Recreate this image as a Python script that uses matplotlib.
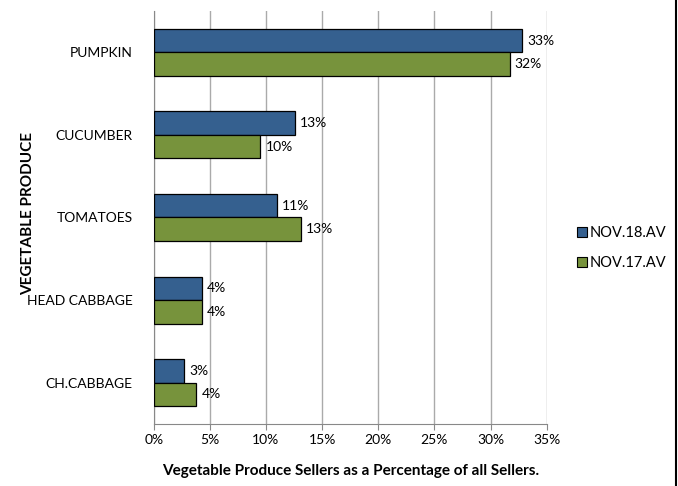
import matplotlib
matplotlib.use('Agg')
import matplotlib.pyplot as plt
import matplotlib.patches as mpatches
from matplotlib.lines import Line2D
import numpy as np

plt.rcParams['font.family'] = ['Lato', 'Open Sans', 'DejaVu Sans']

CATEGORIES = ['PUMPKIN', 'CUCUMBER', 'TOMATOES', 'HEAD CABBAGE', 'CH.CABBAGE']
NOV18 = [32.8, 12.6, 11.0, 4.3, 2.7]
NOV17 = [31.7, 9.5, 13.1, 4.3, 3.8]
LBL18 = ['33%', '13%', '11%', '4%', '3%']
LBL17 = ['32%', '10%', '13%', '4%', '4%']
XTICKS = [0, 5, 10, 15, 20, 25, 30, 35]

COL_18 = '#35608F'
COL_17 = '#77933C'

fig = plt.figure(figsize=(6.78, 4.86), dpi=100)
ax = fig.add_axes([0.2267, 0.1276, 0.5796, 0.8498])

n = len(CATEGORIES)
y = np.arange(n)
h = 0.285
ax.barh(y - h / 2, NOV18, height=h, color=COL_18, edgecolor='black', lw=0.9, zorder=3)
ax.barh(y + h / 2, NOV17, height=h, color=COL_17, edgecolor='black', lw=0.9, zorder=3)

for yi, v, t in zip(y, NOV18, LBL18):
    ax.text(v + 0.45, yi - h / 2, t, va='center', ha='left', fontsize=10)
for yi, v, t in zip(y, NOV17, LBL17):
    ax.text(v + 0.45, yi + h / 2, t, va='center', ha='left', fontsize=10)

ax.set_ylim(n - 0.5, -0.5)
ax.set_xlim(0, 35)
ax.set_xticks(XTICKS)
ax.set_xticklabels([f'{t}%' for t in XTICKS], fontsize=10)
ax.set_yticks(y)
ax.set_yticklabels(CATEGORIES, fontsize=10)
ax.tick_params(axis='y', length=0, pad=15)
ax.tick_params(axis='x', length=4, color='#888888', pad=3, direction='out')
ax.xaxis.grid(True, color='#AAAAAA', lw=1, zorder=0)

for s in ['top', 'right']:
    ax.spines[s].set_visible(False)
for s in ['left', 'bottom']:
    ax.spines[s].set_color('#888888')

ax.set_xlabel('Vegetable Produce Sellers as a Percentage of all Sellers.',
              fontsize=11, fontweight='bold', labelpad=13)
fig.text(0.041, 0.56, 'VEGETABLE PRODUCE', rotation=90, fontsize=11,
         fontweight='bold', ha='center', va='center')

handles = [
    mpatches.Patch(facecolor=COL_18, edgecolor='black', lw=0.8, label='NOV.18.AV'),
    mpatches.Patch(facecolor=COL_17, edgecolor='black', lw=0.8, label='NOV.17.AV'),
]
fig.legend(handles=handles, loc='center left', bbox_to_anchor=(0.84, 0.49),
           frameon=False, fontsize=10.5, handlelength=0.7, handleheight=0.7,
           handletextpad=0.2, labelspacing=1.1, borderpad=0)

fig.add_artist(Line2D([676 / 678, 676 / 678], [0, 1], color='black', lw=1.5,
                      transform=fig.transFigure))

fig.savefig('out.png', dpi=100, facecolor='white')
